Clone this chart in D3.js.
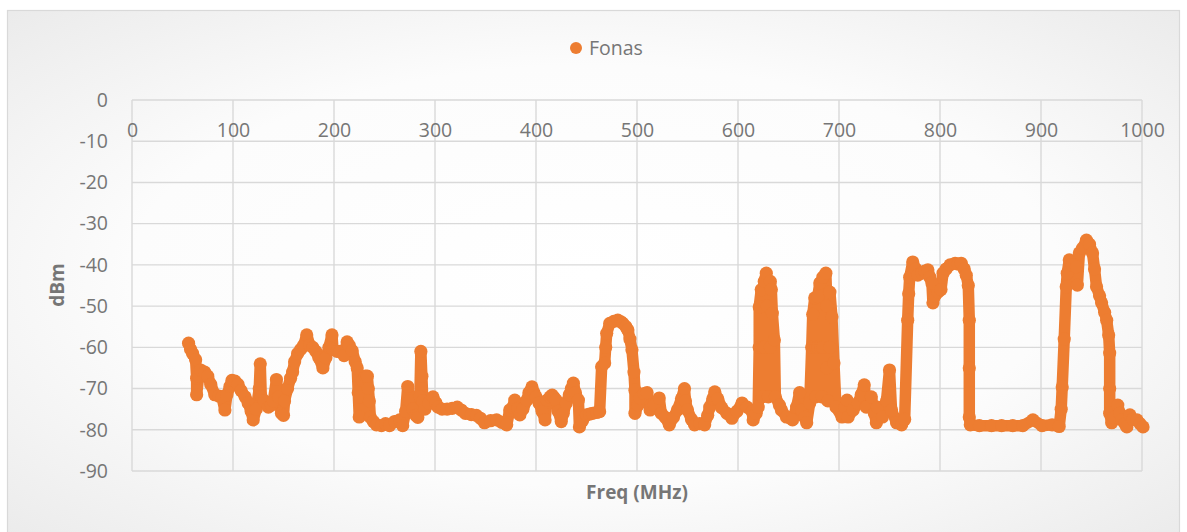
<!DOCTYPE html>
<html>
<head>
<meta charset="utf-8">
<script src="https://cdn.jsdelivr.net/npm/d3@7"></script>
<style>
  body { margin: 0; background: #fff; }
  svg { display: block; font-family: "Open Sans", "Liberation Sans", sans-serif; }
</style>
</head>
<body>
<svg id="chart" width="1187" height="532"></svg>
<script>
// Spectrum sweep: frequency (MHz) and received level (dBm), in sweep order
const freqMHz = [
  56,58,60,63,64,64,66,68,72,75,78,82,86,89,92,94,97,99,102,105,108,112,115,118,120,123,126,127,128,131,
  135,138,140,143,145,148,150,151,154,157,159,161,164,167,170,173,176,179,182,185,189,192,195,198,199,203,
  206,210,213,215,218,221,223,224,225,226,228,231,233,234,235,236,239,242,
  247,251,255,260,265,268,271,273,275,278,281,283,285,286,287,288,290,
  294,298,301,303,307,312,317,322,326,330,336,341,345,349,355,361,366,371,374,377,379,382,384,387,391,393,
  396,398,400,403,406,409,411,414,416,418,420,422,425,427,430,433,435,437,439,442,443,446,450,453,456,460,
  463,465,468,469,470,473,477,481,484,486,489,491,493,495,497,498,498,501,503,507,510,513,517,522,524,528,
  532,536,540,
  544,547,548,550,554,557,562,567,570,572,575,577,580,584,589,594,599,604,609,614,615,618,620,
  621,621,623,624,624,626,626,628,629,630,632,632,633,634,636,637,
  641,643,648,654,658,661,663,666,668,
  671,673,674,676,677,677,679,679,681,682,683,684,684,687,688,688,689,691,691,693,695,697,
  703,706,708,709,714,719,722,725,727,732,735,737,738,743,747,750,752,757,762,765,
  768,769,770,773,776,778,782,785,788,790,792,793,795,798,801,803,806,810,815,818,821,824,826,828,829,829,
  829,830,839,851,861,872,882,892,901,911,918,920,921,923,925,926,928,931,935,936,938,941,945,948,951,953,
  955,958,960,963,965,967,968,968,968,970,972,976,978,980,983,985,988,991,995,998,1001
];
const levelDbm = [
  -59,-60.5,-61.5,-63,-67.5,-71.5,-67,-65.5,-66,-67,-69,-71.5,-71.8,-72,-75.2,-71.5,-69.5,-68,-68.2,-69,-70.5,-72,-73.5,-75.5,-77.6,-75,-70,-64,-72,-73,
  -74.5,-74,-73,-67.8,-72,-76,-76.5,-73,-70,-67.5,-66,-63.5,-61.5,-60.5,-59.5,-57,-59.5,-60,-61,-62.5,-65,-62.5,-60,-57,-60.5,-61,
  -61,-62,-58.7,-59.5,-60.8,-63.5,-65,-71,-76.9,-72,-68,-67,-67,-70,-73,-77,-78,-78.8,
  -79,-78.5,-79,-78,-77.6,-79,-75.5,-69.5,-73,-75,-76.5,-77,-72,-61,-67,-73,-75,
  -73.5,-72,-73.5,-74.5,-75,-75,-74.8,-74.5,-75.2,-76,-76.3,-76.5,-77.2,-78.3,-77.8,-77.6,-78.2,-78.8,-75.2,-74.5,-72.8,-74.8,-76.4,-75,-72.8,-71,
  -69.6,-71,-72,-73.5,-75.5,-77.6,-72.8,-72,-71.6,-72.2,-72.8,-75.5,-78,-76,-73.5,-71.5,-70,-68.7,-71,-72.8,-79.3,-77.8,-76.4,-76.2,-76,-75.8,
  -75.6,-64.7,-63.8,-60,-56.6,-54.2,-53.7,-53.4,-53.8,-54.2,-55,-55.8,-58,-60.6,-66,-70.4,-76,-74,-72.3,-71.2,-71,-75.2,-74,-72.3,-76,-77,
  -78.8,-77,-75.2,
  -72.5,-70,-73,-75.2,-77.5,-78.8,-78.5,-78.8,-76.5,-74.5,-72.5,-70.8,-72.5,-74.7,-76,-77.2,-75.5,-73.5,-74.5,-75.6,-77.6,-76,-74.5,
  -60,-50.2,-46,-60,-72,-60,-44,-42,-50,-72,-60,-44,-46,-51.7,-58.2,-72,
  -74,-75.2,-76.9,-77.6,-74.5,-71,-75.2,-77,-78.3,
  -73.5,-60,-52,-48,-60,-72,-60,-47.7,-44.4,-60,-72,-60,-43,-42,-50,-65,-73,-60,-46.6,-52.6,-63.8,-74.5,
  -76.9,-74.5,-72.8,-76.9,-75.2,-73.5,-71.5,-69.1,-74.5,-72,-76,-78.3,-74.5,-76.9,-73,-65.5,-75.2,-78.3,-78.8,-77.5,
  -53.4,-47,-43,-39.3,-41,-42.5,-42,-41.5,-41.2,-43,-44.4,-49.2,-47.5,-46.6,-46,-42,-41,-40,-39.6,-39.8,-39.6,-41,-42.5,-45,-53.4,-65,
  -76.9,-78.8,-79,-79,-79,-79,-79,-77.6,-79,-78.8,-79.2,-75,-69.6,-58,-45.3,-42,-38.8,-40,-40.5,-44.9,-37.1,-36,-34,-35,-37.1,-41,
  -45.3,-47.5,-49.2,-51.5,-53.4,-57,-61.4,-70,-76,-78.3,-77,-74,-76,-77.6,-78.5,-79.3,-76.4,-77.5,-77.6,-78.5,-79.3
];
const xTickValues = [0, 100, 200, 300, 400, 500, 600, 700, 800, 900, 1000];
const yTickValues = [0, -10, -20, -30, -40, -50, -60, -70, -80, -90];
const seriesName = "Fonas";
const xTitle = "Freq (MHz)";
const yTitle = "dBm";

const svg = d3.select("#chart");
const orange = "#ED7D31";
const textGray = "#767676";
const gridGray = "#d9d9d9";
const plainNumber = d => String(d);   // ASCII hyphen for negatives

// Chart area background: soft radial fade to light grey at the edges
const defs = svg.append("defs");
const grad = defs.append("radialGradient").attr("id", "bg")
  .attr("cx", "50%").attr("cy", "50%").attr("r", "72%");
grad.append("stop").attr("offset", "0%").attr("stop-color", "#ffffff");
grad.append("stop").attr("offset", "55%").attr("stop-color", "#fcfcfc");
grad.append("stop").attr("offset", "100%").attr("stop-color", "#eaeaea");

svg.append("rect")
  .attr("x", 7.5).attr("y", 10.5).attr("width", 1172).attr("height", 530)
  .attr("fill", "url(#bg)").attr("stroke", gridGray).attr("stroke-width", 1.2);

const x = d3.scaleLinear().domain([0, 1000]).range([132, 1142]);
const y = d3.scaleLinear().domain([0, -90]).range([100, 471]);

// Gridlines
const grid = svg.append("g");
grid.selectAll("line.h").data(yTickValues).join("line")
  .attr("x1", x(0)).attr("x2", x(1000))
  .attr("y1", d => y(d)).attr("y2", d => y(d))
  .attr("stroke", gridGray).attr("stroke-width", 1.4);
grid.selectAll("line.v").data(xTickValues).join("line")
  .attr("x1", d => x(d)).attr("x2", d => x(d))
  .attr("y1", y(0)).attr("y2", y(-90))
  .attr("stroke", gridGray).attr("stroke-width", 1.4);

// Y axis labels
const yAxis = d3.axisLeft(y).tickValues(yTickValues).tickSize(0).tickPadding(0)
  .tickFormat(plainNumber);
const gy = svg.append("g").attr("transform", `translate(108,0)`).call(yAxis);
gy.select(".domain").remove();
gy.selectAll("text").attr("fill", textGray).attr("font-size", 19.5)
  .attr("font-family", '"Open Sans", sans-serif');

// X axis labels sit below the zero line
const xAxis = d3.axisBottom(x).tickValues(xTickValues).tickSize(0).tickPadding(0)
  .tickFormat(plainNumber);
const gx = svg.append("g").attr("transform", `translate(0,${y(0) + 23})`).call(xAxis);
gx.select(".domain").remove();
gx.selectAll("text").attr("fill", textGray).attr("font-size", 19.5)
  .attr("font-family", '"Open Sans", sans-serif');

// Axis titles
svg.append("text")
  .attr("x", 637).attr("y", 499).attr("text-anchor", "middle")
  .attr("font-size", 19).attr("font-weight", "bold").attr("fill", textGray)
  .text(xTitle);
svg.append("text")
  .attr("transform", `translate(64,285) rotate(-90)`).attr("text-anchor", "middle")
  .attr("font-size", 19).attr("font-weight", "bold").attr("fill", textGray)
  .text(yTitle);

// Series: dense markers joined by a trace of near-marker width
const pts = freqMHz.map((f, i) => [f, levelDbm[i]]);
const line = d3.line().x(d => x(d[0])).y(d => y(d[1]));
svg.append("path").datum(pts)
  .attr("d", line).attr("fill", "none").attr("stroke", orange)
  .attr("stroke-width", 11.5).attr("stroke-linejoin", "round").attr("stroke-linecap", "round");
svg.append("g").selectAll("circle").data(pts).join("circle")
  .attr("cx", d => x(d[0])).attr("cy", d => y(d[1])).attr("r", 6.6)
  .attr("fill", orange);

// Legend
svg.append("circle").attr("cx", 576).attr("cy", 48).attr("r", 6).attr("fill", orange);
svg.append("text").attr("x", 589).attr("y", 55)
  .attr("font-size", 19.5).attr("fill", textGray).text(seriesName);
</script>
</body>
</html>
